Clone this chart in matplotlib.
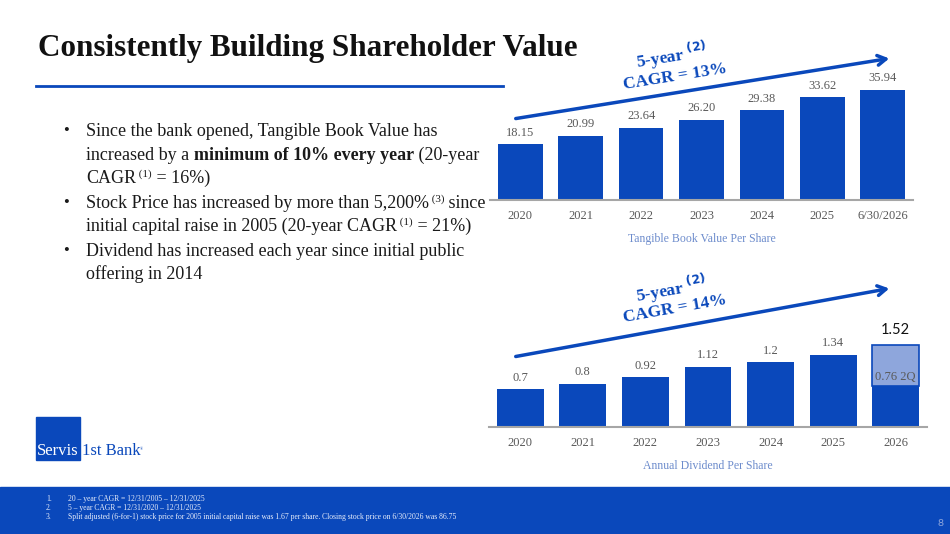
import matplotlib.pyplot as plt
from matplotlib.patches import Rectangle

# Données
annees_tbv = ["2020", "2021", "2022", "2023", "2024", "2025", "6/30/2026"]
tbv = [18.15, 20.99, 23.64, 26.20, 29.38, 33.62, 35.94]

annees_div = ["2020", "2021", "2022", "2023", "2024", "2025", "2026"]
dividende = [0.7, 0.8, 0.92, 1.12, 1.2, 1.34, 1.52]
div_lbl = ["0.7", "0.8", "0.92", "1.12", "1.2", "1.34", "1.52"]
div_2026_paye = 0.76

notes = [
    "20 – year CAGR = 12/31/2005 – 12/31/2025",
    "5 – year CAGR = 12/31/2020 – 12/31/2025",
    "Split adjusted (6-for-1) stock price for 2005 initial capital raise was 1.67 per share. Closing stock price on 6/30/2026 was 86.75",
]

BLEU = "#0a48bb"
BLEU_CLAIR = "#8ea6dc"
GRIS = "#595959"
SERIF = ["Liberation Serif", "DejaVu Serif"]

W, H = 950, 534
fig = plt.figure(figsize=(9.5, 5.34), dpi=100)
rendu = fig.canvas.get_renderer()


def fx(x):
    return x / W


def fy(y):
    return (H - y) / H


def axes_px(x0, x1, ytop, ybase):
    return fig.add_axes([fx(x0), fy(ybase), (x1 - x0) / W, (ybase - ytop) / H])


def ligne(x, y, morceaux, size=13, color="#1a1a1a"):
    # morceaux : (texte, gras, exposant), y = ligne de base en pixels
    for txt, gras, sup in morceaux:
        s = size * 0.62 if sup else size
        dy = size * 0.5 if sup else 0
        t = fig.text(fx(x), fy(y - dy), txt, fontsize=s, weight="bold" if gras else "normal",
                     family=SERIF, va="baseline", ha="left", color=color)
        x += t.get_window_extent(rendu).width


# Titre
fig.text(fx(38), fy(56), "Consistently Building Shareholder Value", fontsize=22.4,
         weight="bold", family=SERIF, va="baseline", color="#111111")
fig.add_artist(plt.Line2D([fx(36), fx(503)], [fy(86), fy(86)], color=BLEU, lw=2))

# Puces
for yb in [131, 203, 251]:
    fig.text(fx(63), fy(yb), "•", fontsize=12, family=SERIF, va="center", color="#1a1a1a")

lignes = [
    (131, [("Since the bank opened, Tangible Book Value has", False, False)]),
    (155, [("increased by a ", False, False), ("minimum of 10% every year", True, False),
           (" (20-year", False, False)]),
    (178, [("CAGR", False, False), (" (1)", False, True), (" = 16%)", False, False)]),
    (203, [("Stock Price has increased by more than 5,200%", False, False), (" (3)", False, True),
           (" since", False, False)]),
    (226, [("initial capital raise in 2005 (20-year CAGR", False, False), (" (1)", False, True),
           (" = 21%)", False, False)]),
    (251, [("Dividend has increased each year since initial public", False, False)]),
    (274, [("offering in 2014", False, False)]),
]
for yl, morceaux in lignes:
    ligne(86, yl + 5, morceaux)

# Graphique du haut : valeur comptable tangible
ax1 = axes_px(490, 913, 60, 200)
x1 = range(len(tbv))
ax1.bar(x1, tbv, width=0.74, color=BLEU)
for xi, v in zip(x1, tbv):
    ax1.annotate(f"{v:.2f}", (xi, v), xytext=(0, 4), textcoords="offset points",
                 ha="center", va="bottom", fontsize=9, family=SERIF, color=GRIS)
ax1.set_xlim(-0.5, 6.5)
ax1.set_ylim(0, 45.75)
ax1.set_xticks(list(x1), annees_tbv)
ax1.set_xlabel("Tangible Book Value Per Share", fontsize=8.5, family=SERIF,
               color="#6d8ccc", labelpad=8)

# Graphique du bas : dividende annuel
ax2 = axes_px(489, 927, 270, 427)
x2 = list(range(len(dividende)))
ax2.bar(x2[:-1], dividende[:-1], width=0.75, color=BLEU)
ax2.bar(x2[-1], div_2026_paye, width=0.75, color=BLEU)
ax2.bar(x2[-1], dividende[-1] - div_2026_paye, bottom=div_2026_paye, width=0.75,
        color=BLEU_CLAIR, edgecolor=BLEU, linewidth=1.2)
for xi, v, lbl in zip(x2[:-1], dividende[:-1], div_lbl[:-1]):
    ax2.annotate(lbl, (xi, v), xytext=(0, 4), textcoords="offset points",
                 ha="center", va="bottom", fontsize=9, family=SERIF, color=GRIS)
ax2.annotate(div_lbl[-1], (x2[-1], dividende[-1]), xytext=(0, 6), textcoords="offset points",
             ha="center", va="bottom", fontsize=10.5, family=["Lato", "DejaVu Sans"],
             color="#111111")
ax2.text(x2[-1], div_2026_paye + 0.17, "0.76 2Q", ha="center", va="center",
         fontsize=9, family=SERIF, color=GRIS)
ax2.set_xlim(-0.5, 6.5)
ax2.set_ylim(0, 2.91)
ax2.set_xticks(x2, annees_div)
ax2.set_xlabel("Annual Dividend Per Share", fontsize=8.5, family=SERIF,
               color="#6d8ccc", labelpad=8)

for ax in (ax1, ax2):
    for s in ["top", "left", "right"]:
        ax.spines[s].set_visible(False)
    ax.spines["bottom"].set_color("#a6a6a6")
    ax.spines["bottom"].set_linewidth(1.5)
    ax.set_yticks([])
    ax.tick_params(axis="x", length=0, pad=7, labelsize=9, labelcolor=GRIS)
    for t in ax.get_xticklabels():
        t.set_family(SERIF)
    ax.patch.set_alpha(0)

# Flèches CAGR
for (xa, ya, xb, yb), (tx, ty), pct, rot in [
    ((513, 119, 892, 58), (673, 64), "13%", 9),
    ((513, 357, 892, 288), (673, 297), "14%", 10),
]:
    fig.add_artist(plt.Annotation(
        "", xy=(fx(xb), fy(yb)), xytext=(fx(xa), fy(ya)), xycoords="figure fraction",
        textcoords="figure fraction",
        arrowprops=dict(arrowstyle="->,head_length=0.6,head_width=0.35", color=BLEU, lw=2.5)))
    fig.text(fx(tx), fy(ty), "5-year $^{\\mathbf{(2)}}$\nCAGR = " + pct, fontsize=12.5,
             weight="bold", family=SERIF, color=BLEU, ha="center", va="center",
             rotation=rot, rotation_mode="anchor", linespacing=1.0)

# Logo
fig.add_artist(Rectangle((fx(36), fy(460)), 44 / W, 43 / H, transform=fig.transFigure,
                         color=BLEU))
fig.text(fx(37), fy(455), "Servis", fontsize=12, family=SERIF, color="white", va="baseline")
fig.text(fx(82), fy(455), "1st Bank", fontsize=12, family=SERIF, color=BLEU, va="baseline")
fig.text(fx(140), fy(450), "®", fontsize=3, family=SERIF, color=BLEU, va="baseline")

# Bandeau de notes
fig.add_artist(Rectangle((0, 0), 1, (H - 487) / H, transform=fig.transFigure, color=BLEU))
for i, n in enumerate(notes):
    fig.text(fx(46), fy(499 + 9 * i), f"{i + 1}.", fontsize=5.5, family=SERIF,
             color="#e8eefb", va="center")
    fig.text(fx(68), fy(499 + 9 * i), n, fontsize=5.5, family=SERIF, color="#e8eefb",
             va="center")
fig.text(fx(940), fy(524), "8", fontsize=7.5, family=["Lato", "DejaVu Sans"],
         color="#8ea6dc", ha="center", va="center")

fig.savefig("out.png", dpi=100, facecolor="white")
